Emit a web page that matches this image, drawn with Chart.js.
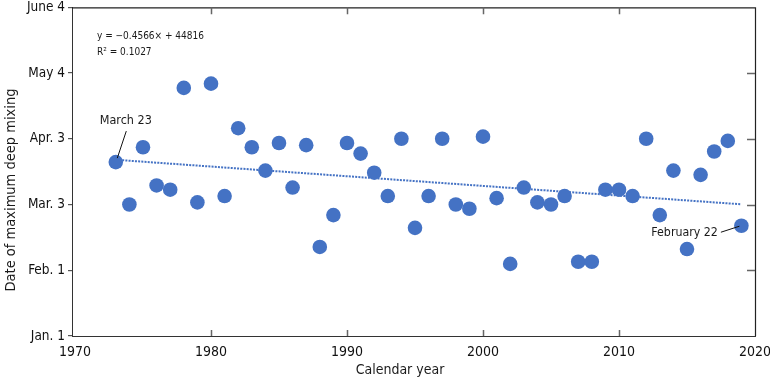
<!DOCTYPE html>
<html><head><meta charset="utf-8">
<script src="https://cdn.jsdelivr.net/npm/chart.js@4"></script>
<style>html,body{margin:0;padding:0;background:#fff}</style>
</head><body>
<canvas id="c" width="770" height="380"></canvas>
<script>
// ---- data ----
const years = [1973,1974,1975,1976,1977,1978,1979,1980,1981,1982,1983,1984,1985,1986,1987,1988,1989,1990,1991,1992,1993,1994,1995,1996,1997,1998,1999,2000,2001,2002,2003,2004,2005,2006,2007,2008,2009,2010,2011,2012,2013,2014,2015,2016,2017,2018,2019];
// day of year (leap-year calendar: Jan 1 = 1, Feb 1 = 32, Mar 3 = 63 ...)
const mixDays = [83,63,90,72,70,118,64,120,67,99,90,79,92,71,91,43,58,92,87,78,67,94,52,67,94,63,61,95,66,35,71,64,63,67,36,36,70,70,67,94,58,79,42,77,88,93,53];
const trendYears = [1973, 2019];
const trendDays = [84.1, 63.1];
const xTickValues = [1970,1980,1990,2000,2010,2020];
const yTickValues = [1,32,63,94,125,156];
const yTickLabels = ['Jan. 1','Feb. 1','Mar. 3','Apr. 3','May 4','June 4'];
const equationLines = ['y = \u22120.4566\u00d7 + 44816', 'R\u00b2 = 0.1027'];
const xTitle = 'Calendar year';
const yTitle = 'Date of maximum deep mixing';
const callouts = [
  {year: 1973, text: 'March 23'},
  {year: 2019, text: 'February 22'}
];

const FONT = '"Liberation Sans Narrow", "DejaVu Sans Condensed", "Roboto", sans-serif';
const BLUE = '#4472C4';

const pointData = years.map((y,i)=>({x:y, y:mixDays[i]}));
const trendData = trendYears.map((y,i)=>({x:y, y:trendDays[i]}));

const deco = {
  id: 'deco',
  afterDraw(chart) {
    const ctx = chart.ctx, a = chart.chartArea;
    const xs = chart.scales.x, ys = chart.scales.y;
    ctx.save();
    // frame (top/right)
    ctx.strokeStyle = '#222'; ctx.lineWidth = 1.2;
    ctx.beginPath();
    ctx.moveTo(a.left, a.top + 0.5); ctx.lineTo(a.right + 0.5, a.top + 0.5); ctx.lineTo(a.right + 0.5, a.bottom);
    ctx.stroke();
    // inward ticks
    ctx.strokeStyle = '#666'; ctx.lineWidth = 1.5;
    ctx.beginPath();
    xTickValues.forEach(v => {
      const px = Math.round(xs.getPixelForValue(v)) + 0.5;
      if (px > a.left + 4 && px < a.right - 2) {
        ctx.moveTo(px, a.top); ctx.lineTo(px, a.top + 7);
        ctx.moveTo(px, a.bottom); ctx.lineTo(px, a.bottom - 6);
      }
    });
    yTickValues.forEach(v => {
      const py = Math.round(ys.getPixelForValue(v)) + 0.5;
      if (py > a.top + 2 && py < a.bottom - 2) {
        ctx.moveTo(a.right, py); ctx.lineTo(a.right - 8, py);
      }
    });
    ctx.stroke();
    // equation
    ctx.fillStyle = '#1a1a1a';
    ctx.font = '10px ' + FONT;
    ctx.textAlign = 'left'; ctx.textBaseline = 'middle';
    ctx.fillText(equationLines[0], a.left + 25, a.top + 29);
    ctx.fillText(equationLines[1], a.left + 25, a.top + 45);
    // callouts
    ctx.strokeStyle = '#111'; ctx.lineWidth = 1;
    const c1 = callouts[0], i1 = years.indexOf(c1.year);
    let px = xs.getPixelForValue(c1.year), py = ys.getPixelForValue(mixDays[i1]);
    ctx.font = '12.5px ' + FONT;
    ctx.textAlign = 'center';
    ctx.fillText(c1.text, px + 10, py - 41);
    ctx.beginPath(); ctx.moveTo(px + 10.5, py - 31); ctx.lineTo(px + 1.5, py - 4); ctx.stroke();
    const c2 = callouts[1], i2 = years.indexOf(c2.year);
    px = xs.getPixelForValue(c2.year); py = ys.getPixelForValue(mixDays[i2]);
    ctx.font = '12.3px ' + FONT;
    ctx.textAlign = 'right';
    ctx.fillText(c2.text, px - 23.5, py + 7.5);
    ctx.beginPath(); ctx.moveTo(px - 20.5, py + 6.5); ctx.lineTo(px - 2, py + 0.5); ctx.stroke();
    // axis titles
    ctx.textAlign = 'center'; ctx.textBaseline = 'middle';
    ctx.font = '14px ' + FONT;
    ctx.fillText(xTitle, 400, 370);
    ctx.font = '14.5px ' + FONT;
    ctx.translate(11, 190);
    ctx.rotate(-Math.PI / 2);
    ctx.fillText(yTitle, 0, 0);
    ctx.restore();
  }
};

new Chart(document.getElementById('c'), {
  data: {
    datasets: [
      { type: 'scatter', data: pointData, backgroundColor: BLUE, borderColor: BLUE, borderWidth: 0, pointRadius: 7.3, pointHoverRadius: 7.3, order: 0 },
      { type: 'line', data: trendData, borderColor: BLUE, borderWidth: 2, borderDash: [2, 1.2], pointRadius: 0, fill: false, order: 1 }
    ]
  },
  options: {
    responsive: false,
    animation: false,
    events: [],
    layout: { padding: { top: 7, right: 15, left: 0, bottom: 0 } },
    plugins: { legend: { display: false }, tooltip: { enabled: false } },
    scales: {
      x: {
        type: 'linear', min: 1969.78, max: 2020,
        afterBuildTicks: s => { s.ticks = xTickValues.map(v => ({ value: v })); },
        afterFit: s => { s.height = 44; s.paddingLeft = 0; s.paddingRight = 0; },
        grid: { display: false },
        border: { display: true, color: '#333', width: 1 },
        ticks: { color: '#111', font: { family: FONT, size: 14 }, padding: 0, callback: v => String(v), maxRotation: 0 }
      },
      y: {
        type: 'linear', min: 1, max: 156,
        afterBuildTicks: s => { s.ticks = yTickValues.map(v => ({ value: v })); },
        afterFit: s => { s.width = 72; s.paddingTop = 0; s.paddingBottom = 0; },
        grid: { display: true, drawOnChartArea: false, drawTicks: true, tickLength: 4, color: '#555', lineWidth: 1.2 },
        border: { display: true, color: '#333', width: 1 },
        ticks: { color: '#111', font: { family: FONT, size: 13.5 }, padding: 3,
          callback: v => { const k = yTickValues.indexOf(v); return k >= 0 ? yTickLabels[k] : ''; } }
      }
    }
  },
  plugins: [deco]
});
</script>
</body></html>
